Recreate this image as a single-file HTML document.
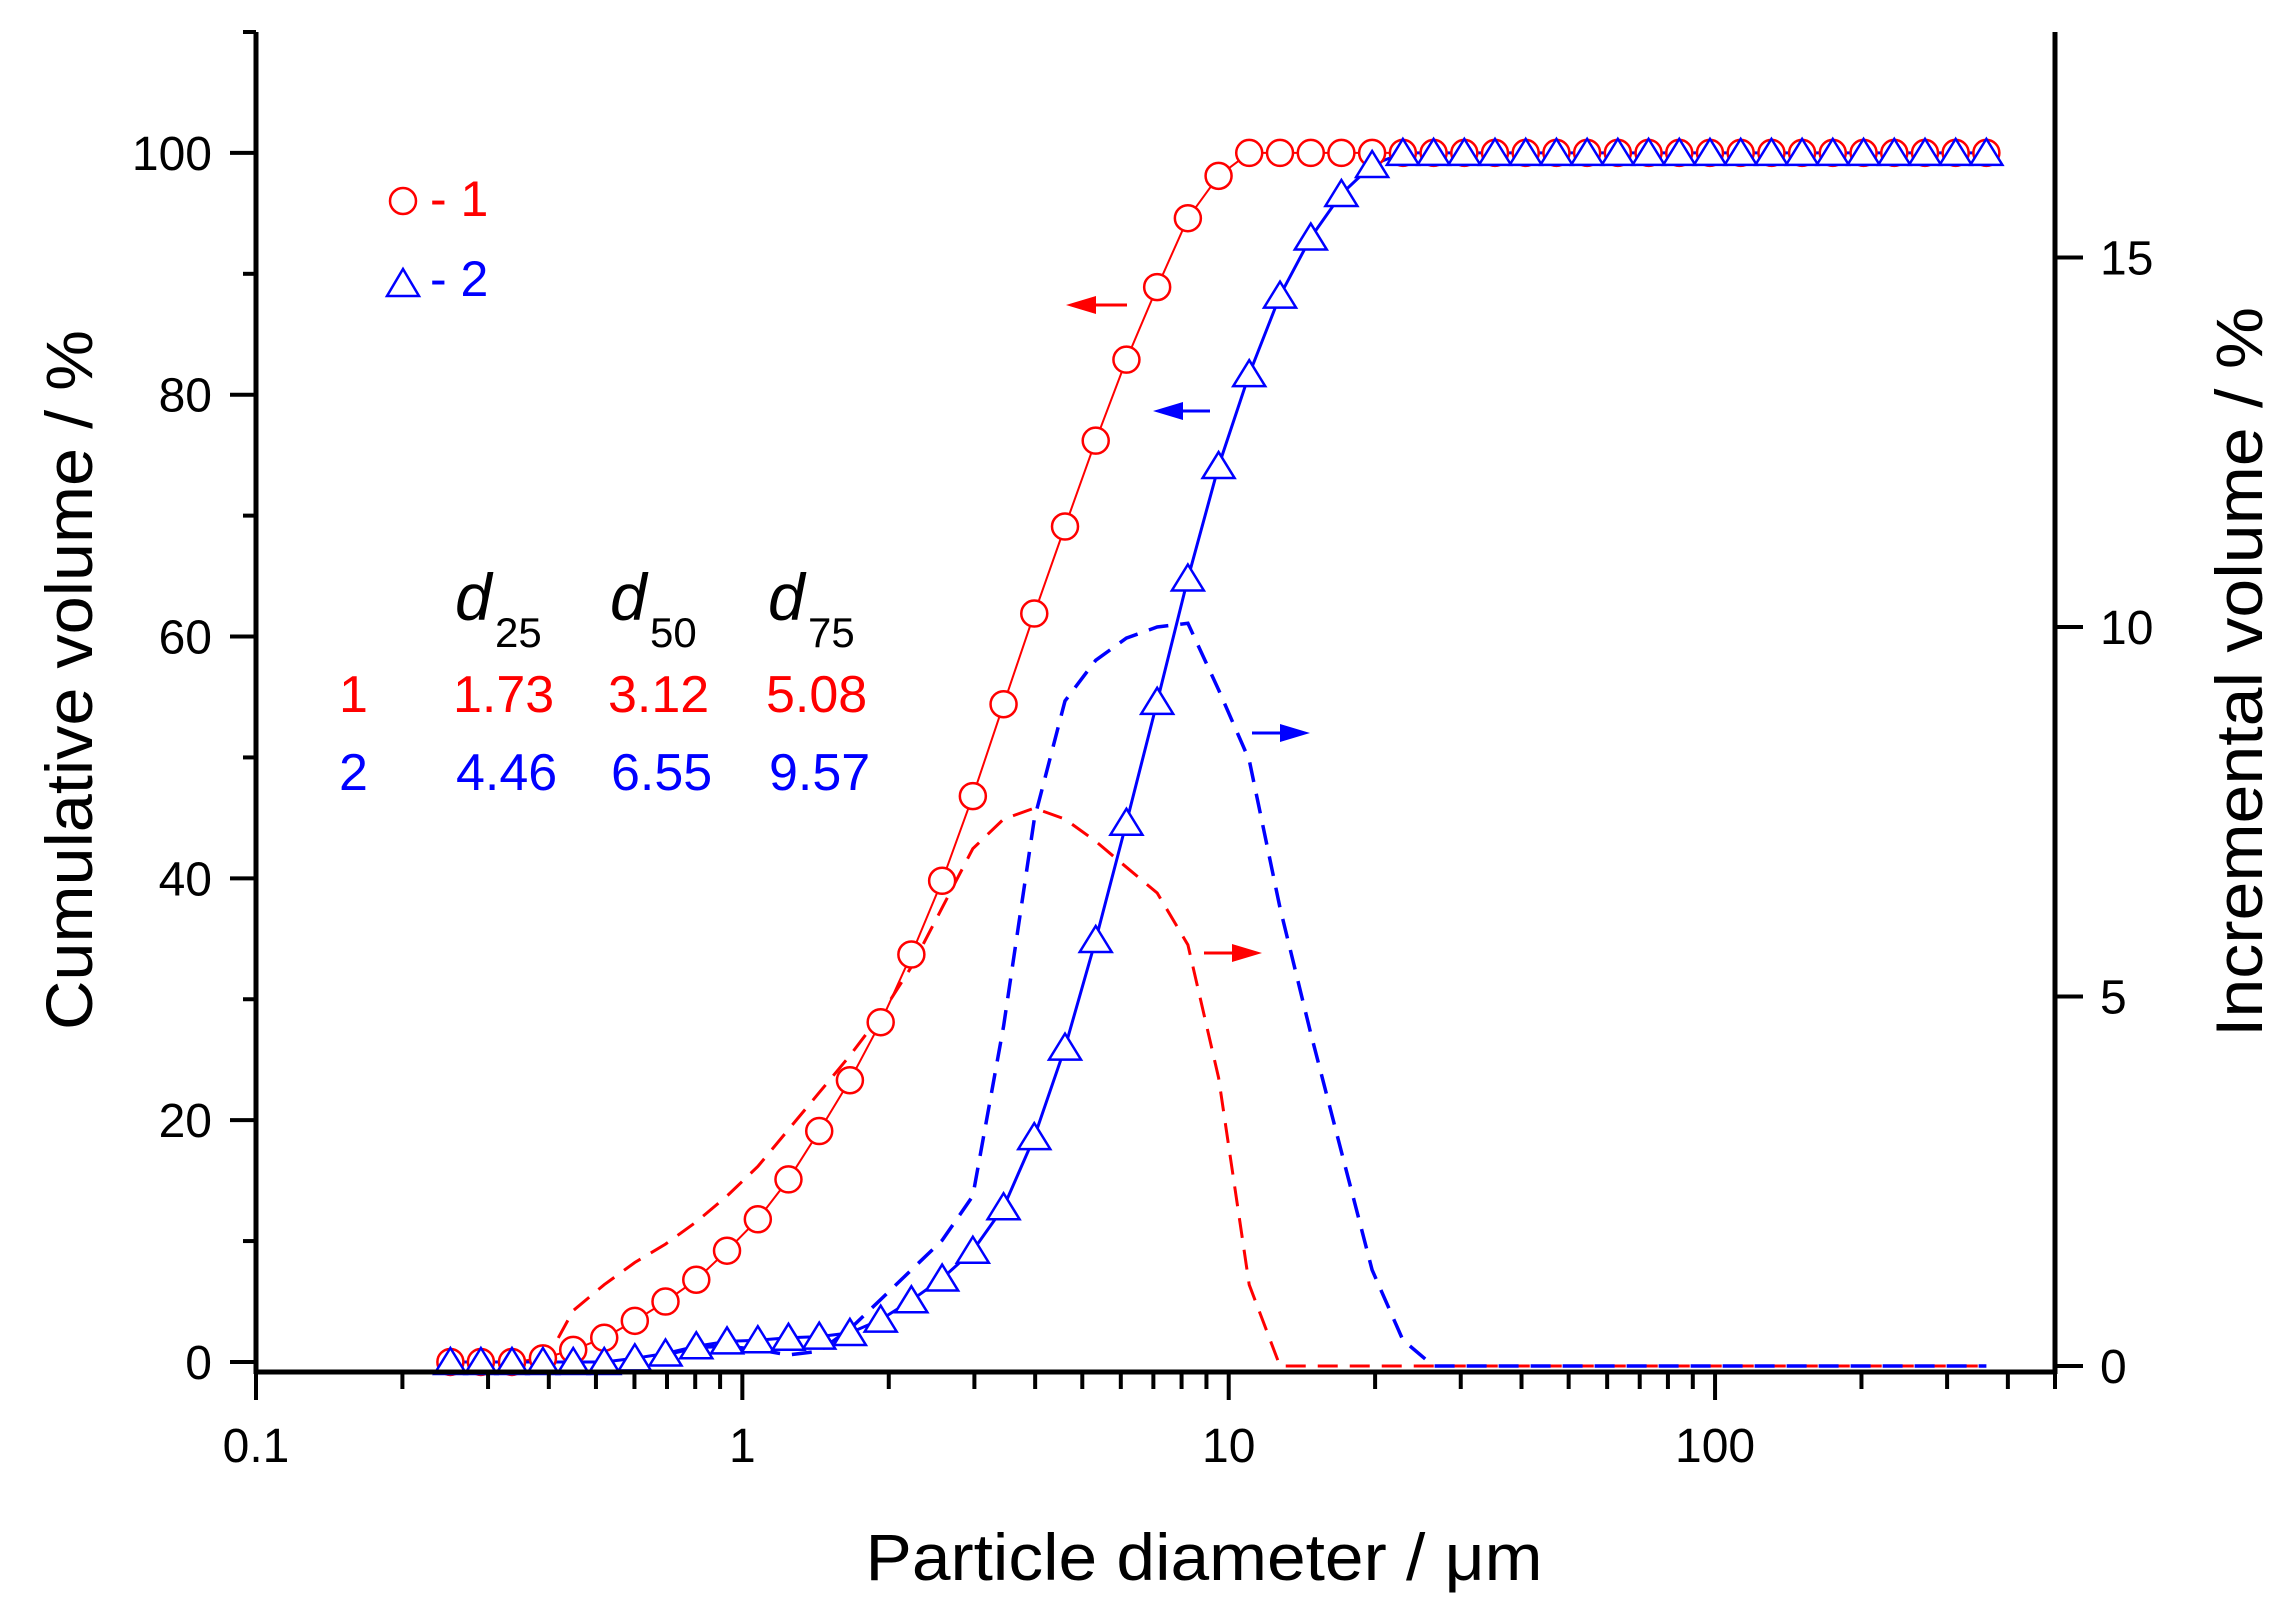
<!DOCTYPE html>
<html><head><meta charset="utf-8"><title>Particle size distribution</title>
<style>html,body{margin:0;padding:0;background:#fff}svg{display:block}text{font-family:"Liberation Sans",Arial,sans-serif}</style>
</head><body>
<svg id="chart" width="2282" height="1615" viewBox="0 0 2282 1615" xmlns="http://www.w3.org/2000/svg">
<g id="grid"></g>
<g id="series"></g>
<g id="axes"></g>
<g id="annot"></g>
</svg>
<script>
const sizes=[0.251,0.290,0.336,0.389,0.449,0.520,0.601,0.695,0.804,0.930,1.076,1.244,1.439,1.664,1.925,2.226,2.575,2.978,3.444,3.983,4.607,5.328,6.162,7.127,8.242,9.532,11.02,12.75,14.75,17.05,19.72,22.81,26.38,30.51,35.28,40.80,47.19,54.57,63.11,72.99,84.41,97.62,112.9,130.6,151.0,174.6,202.0,233.6,270.2,312.4,361.3];
const cum1=[0,0,0,0.3,1,2,3.4,5,6.8,9.2,11.8,15.1,19.1,23.3,28.1,33.7,39.8,46.8,54.4,61.9,69.1,76.2,82.9,88.9,94.6,98.1,100,100,100,100,100,100,100,100,100,100,100,100,100,100,100,100,100,100,100,100,100,100,100,100,100];
const cum2=[0,0,0,0,0,0,0.3,0.7,1.3,1.7,1.8,2.0,2.1,2.4,3.5,5.1,6.9,9.2,12.8,18.6,26,34.9,44.6,54.6,64.8,74.1,81.7,88.2,93,96.6,99,100,100,100,100,100,100,100,100,100,100,100,100,100,100,100,100,100,100,100,100];
const inc1=[null,null,null,0,0.75,1.1,1.4,1.65,1.95,2.3,2.7,3.2,3.7,4.2,4.75,5.4,6.2,7.0,7.4,7.55,7.4,7.1,6.75,6.4,5.7,3.9,1.1,0,0,0,0,0,0,0,0,0,0,0,0,0,0,0,0,0,0,0,0,0,0,0,0];
const inc2=[null,null,null,null,null,null,null,0.15,0.25,0.27,0.22,0.15,0.2,0.5,0.9,1.3,1.7,2.3,4.6,7.4,9.0,9.55,9.85,10.0,10.05,9.15,8.2,6.2,4.5,2.9,1.3,0.35,0,0,0,0,0,0,0,0,0,0,0,0,0,0,0,0,0,0,0];
const yTicks=[0,20,40,60,80,100];
const y2Ticks=[0,5,10,15];
const xTicks=[0.1,1,10,100];
const xTickLabels=["0.1","1","10","100"];
const tableHead=["25","50","75"];
const tableRow1=["1.73","3.12","5.08"];
const tableRow2=["4.46","6.55","9.57"];

const NS="http://www.w3.org/2000/svg";
const X0=256,X1=2055,YT=32,YB=1372;
const xmin=Math.log10(0.1),xmax=Math.log10(500);
const sx=v=>X0+(Math.log10(v)-xmin)/(xmax-xmin)*(X1-X0);
const ymin=-0.83,ymax=110;
const sy=v=>YB-(v-ymin)/(ymax-ymin)*(YB-YT);
const sy2=v=>1366-v*73.9;
function mk(tag,attrs,parent){const e=document.createElementNS(NS,tag);for(const k in attrs)e.setAttribute(k,attrs[k]);parent.appendChild(e);return e;}
const S=document.getElementById('series'),A=document.getElementById('axes'),N=document.getElementById('annot');

function pathFrom(xs,ys,f){let d="";let started=false;xs.forEach((x,i)=>{if(ys[i]===null)return;d+=(started?"L":"M")+sx(x).toFixed(1)+","+f(ys[i]).toFixed(1);started=true;});return d;}
let p;
p=mk('path',{d:pathFrom(sizes,inc1,sy2),fill:'none',stroke:'#ff0000','stroke-width':3,'stroke-dasharray':'20,12'},S);


p=mk('path',{d:pathFrom(sizes,inc2,sy2),fill:'none',stroke:'#0000ff','stroke-width':3.5,'stroke-dasharray':'20,12'},S);


p=mk('path',{d:pathFrom(sizes,cum1,sy),fill:'none',stroke:'#ff0000','stroke-width':2},S);


p=mk('path',{d:pathFrom(sizes,cum2,sy),fill:'none',stroke:'#0000ff','stroke-width':3},S);


sizes.forEach((x,i)=>{
  const c=mk('circle',{cx:sx(x),cy:sy(cum1[i]),r:13,fill:'#fff',stroke:'#ff0000','stroke-width':2.5},S);
  
  
});
sizes.forEach((x,i)=>{
  const cx=sx(x),cy=sy(cum2[i]);
  const t=mk('polygon',{points:`${cx-16},${cy+12} ${cx+16},${cy+12} ${cx},${cy-14}`,fill:'#fff',stroke:'#0000ff','stroke-width':2.5},S);
  
  
});

// axes
mk('line',{x1:X0,y1:YT,x2:X0,y2:YB+2,stroke:'#000','stroke-width':5},A);
mk('line',{x1:X1,y1:YT,x2:X1,y2:YB+2,stroke:'#000','stroke-width':5},A);
mk('line',{x1:X0-2,y1:YB,x2:X1+2,y2:YB,stroke:'#000','stroke-width':5},A);
for(let v=0;v<=110;v+=10){const y=sy(v);const major=v%20===0;mk('line',{x1:X0-(major?26:13),y1:y,x2:X0,y2:y,stroke:'#000','stroke-width':4},A);}
yTicks.forEach(v=>{const t=mk('text',{x:212,y:sy(v)+17,'font-size':48,'text-anchor':'end',fill:'#000'},A);t.textContent=v;});
y2Ticks.forEach(v=>{const y=sy2(v);mk('line',{x1:X1,y1:y,x2:X1+28,y2:y,stroke:'#000','stroke-width':4},A);const t=mk('text',{x:2100,y:y+17,'font-size':48,fill:'#000'},A);t.textContent=v;});
for(let e=-1;e<=2;e++){for(let m=1;m<=9;m++){const v=m*Math.pow(10,e);if(v>500)break;const x=sx(v);mk('line',{x1:x,y1:YB,x2:x,y2:YB+(m===1?28:17),stroke:'#000','stroke-width':4},A);}}
xTicks.forEach((v,i)=>{const t=mk('text',{x:sx(v),y:1462,'font-size':48,'text-anchor':'middle',fill:'#000'},A);t.textContent=xTickLabels[i];});
let t;
t=mk('text',{x:1204,y:1580,'font-size':66,'text-anchor':'middle',textLength:677,lengthAdjust:'spacingAndGlyphs'},A);t.textContent='Particle diameter / μm';

t=mk('text',{x:0,y:0,'font-size':66,'text-anchor':'middle',textLength:700,lengthAdjust:'spacingAndGlyphs',transform:'translate(92,680) rotate(-90)'},A);t.textContent='Cumulative volume / %';

t=mk('text',{x:0,y:0,'font-size':66,'text-anchor':'middle',textLength:730,lengthAdjust:'spacingAndGlyphs',transform:'translate(2262,672) rotate(-90)'},A);t.textContent='Incremental volume / %';


// legend
mk('circle',{cx:403,cy:201,r:13,fill:'#fff',stroke:'#ff0000','stroke-width':2.5},N);
t=mk('text',{x:430,y:216,'font-size':50,fill:'#ff0000'},N);t.textContent='- 1';
mk('polygon',{points:'387,296 419,296 403,269',fill:'#fff',stroke:'#0000ff','stroke-width':2.5},N);
t=mk('text',{x:430,y:296,'font-size':50,fill:'#0000ff'},N);t.textContent='- 2';

// table
const colX=[453,608,766];
tableHead.forEach((h,i)=>{const tt=mk('text',{x:colX[i]+2,y:620,'font-size':66,'font-style':'italic',fill:'#000'},N);tt.textContent='d';
 const s=mk('text',{x:colX[i]+42,y:647,'font-size':42,fill:'#000'},N);s.textContent=h;});
t=mk('text',{x:339,y:712,'font-size':52,fill:'#ff0000'},N);t.textContent='1';
t=mk('text',{x:339,y:790,'font-size':52,fill:'#0000ff'},N);t.textContent='2';
tableRow1.forEach((v,i)=>{const tt=mk('text',{x:colX[i],y:712,'font-size':52,fill:'#ff0000'},N);tt.textContent=v;});
tableRow2.forEach((v,i)=>{const tt=mk('text',{x:colX[i]+3,y:790,'font-size':52,fill:'#0000ff'},N);tt.textContent=v;});

// arrows
function arrow(x1,x2,y,col,name){const g=mk('g',{},N);
 const dir=x2>x1?1:-1;mk('line',{x1:x1,y1:y,x2:x2-dir*20,y2:y,stroke:col,'stroke-width':3},g);
 mk('polygon',{points:`${x2},${y} ${x2-dir*30},${y-9} ${x2-dir*30},${y+9}`,fill:col},g);}
arrow(1127,1066,305,'#ff0000','arrow-left-1');
arrow(1210,1153,411,'#0000ff','arrow-left-2');
arrow(1252,1310,733,'#0000ff','arrow-right-2');
arrow(1204,1262,953,'#ff0000','arrow-right-1');
</script>
</body></html>
